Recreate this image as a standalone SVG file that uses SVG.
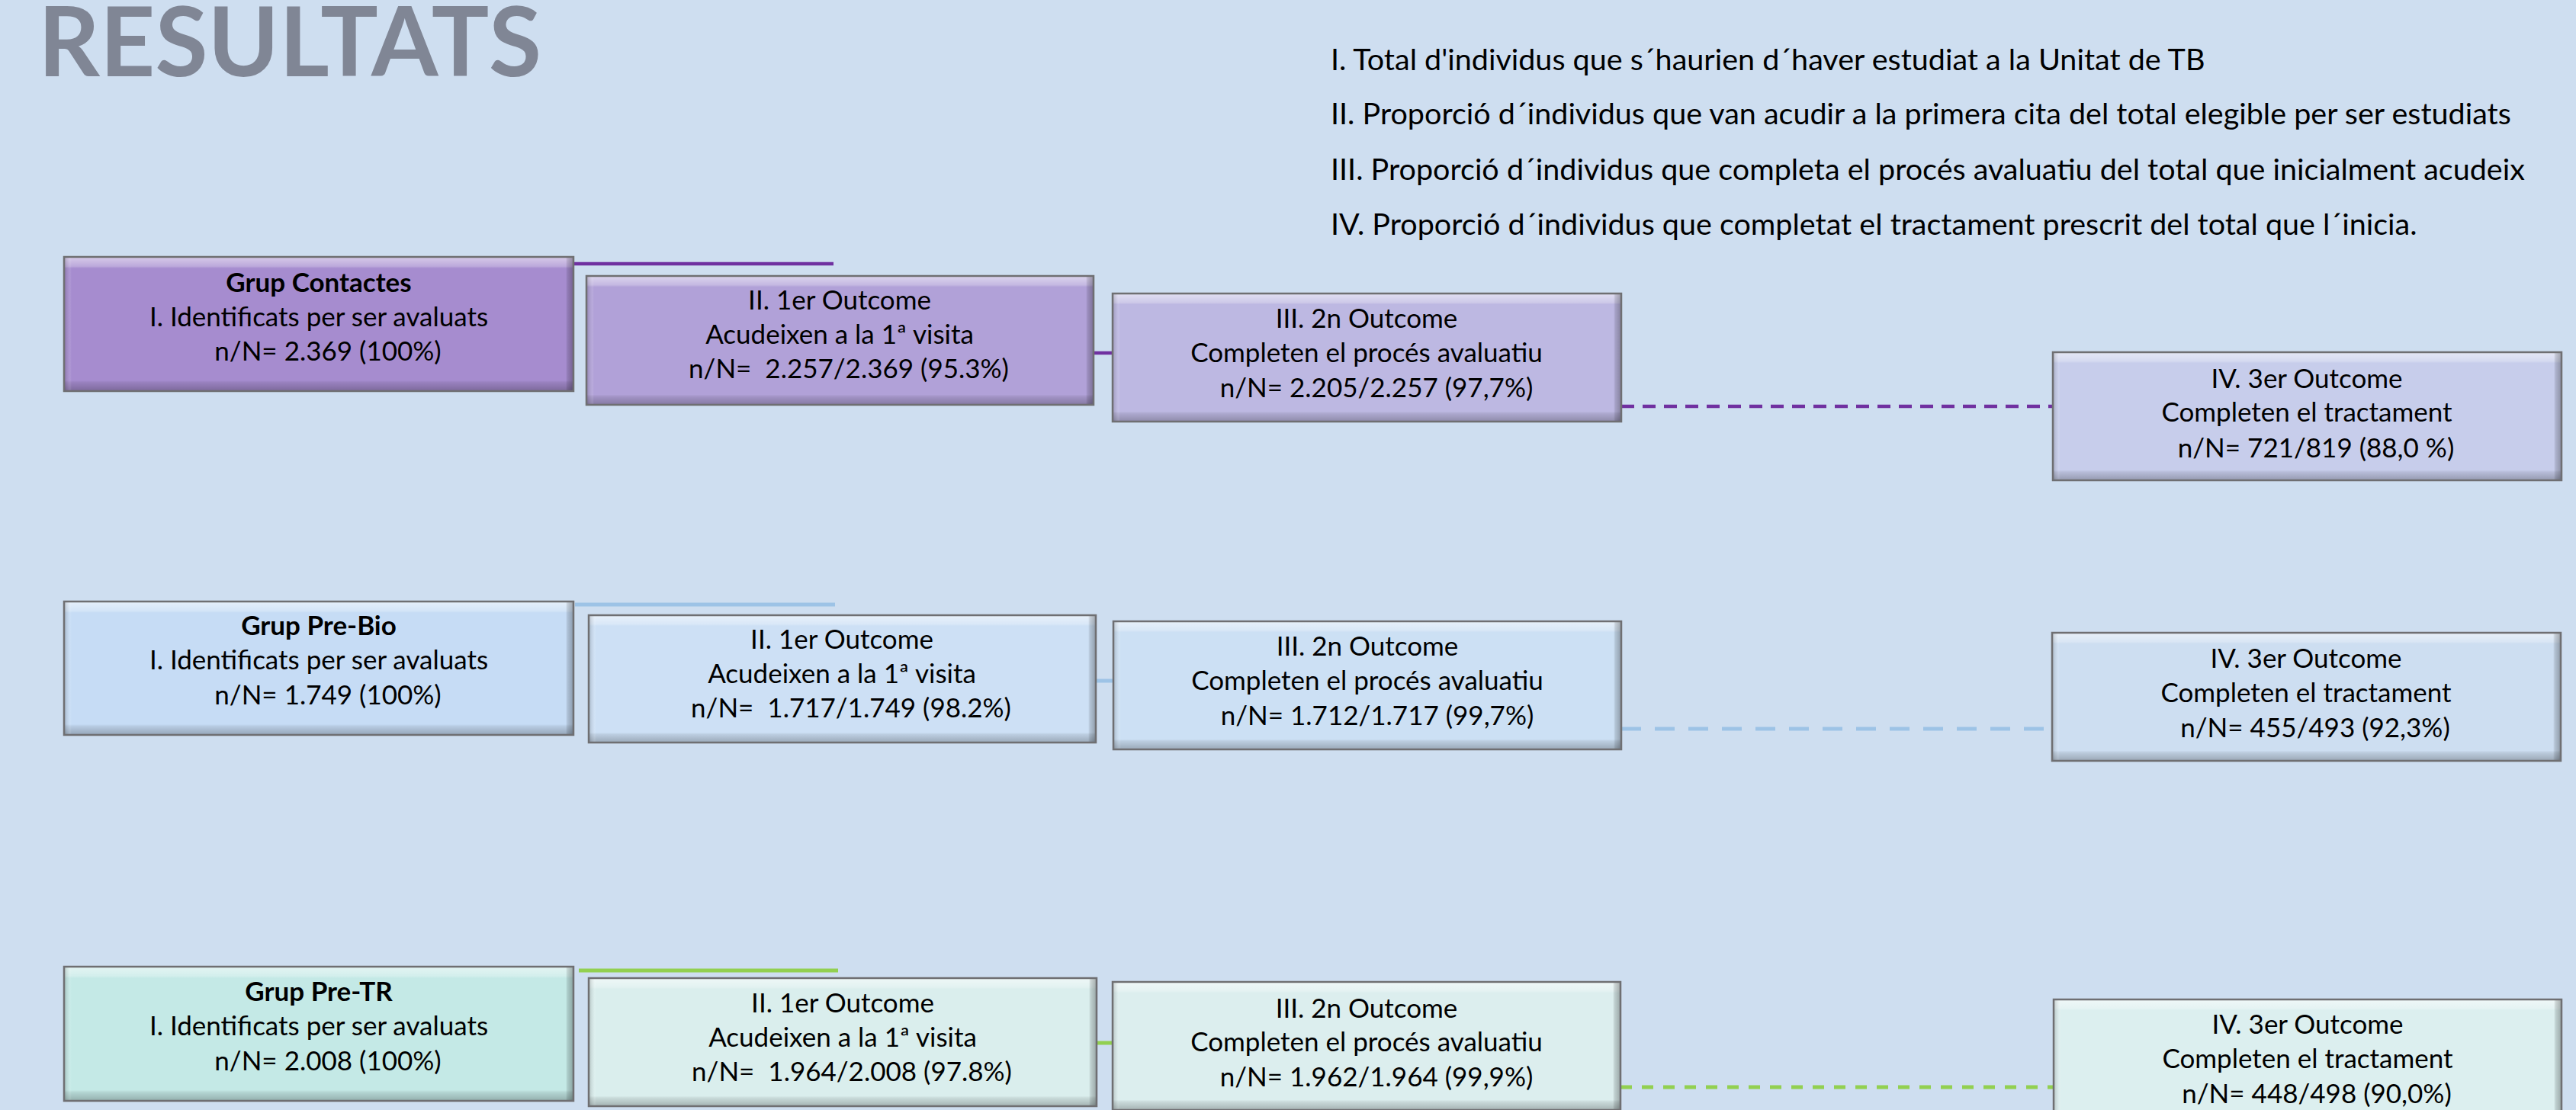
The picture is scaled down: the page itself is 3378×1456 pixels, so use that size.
<svg xmlns="http://www.w3.org/2000/svg" width="3378" height="1456" viewBox="0 0 3378 1456">
<defs>
<linearGradient id="bv" x1="0" y1="0" x2="0" y2="1">
<stop offset="0" stop-color="#ffffff" stop-opacity="0.55"/>
<stop offset="0.07" stop-color="#ffffff" stop-opacity="0.25"/>
<stop offset="0.085" stop-color="#ffffff" stop-opacity="0"/>
<stop offset="0.92" stop-color="#000000" stop-opacity="0"/>
<stop offset="0.935" stop-color="#000000" stop-opacity="0.08"/>
<stop offset="1" stop-color="#000000" stop-opacity="0.25"/>
</linearGradient>
<linearGradient id="bh" x1="0" y1="0" x2="1" y2="0">
<stop offset="0" stop-color="#000000" stop-opacity="0.18"/>
<stop offset="0.012" stop-color="#ffffff" stop-opacity="0.1"/>
<stop offset="0.015" stop-color="#ffffff" stop-opacity="0"/>
<stop offset="0.985" stop-color="#000000" stop-opacity="0"/>
<stop offset="0.988" stop-color="#000000" stop-opacity="0.12"/>
<stop offset="1" stop-color="#000000" stop-opacity="0.3"/>
</linearGradient>
<style>
.bg{fill:#cedef0}
.ov1{fill:url(#bv)}
.ov2{fill:url(#bh)}
.bd{fill:none;stroke:#6f6f72;stroke-width:2.5}
.t{font-family:"Lato","Liberation Sans",sans-serif;font-size:35px;fill:#000;text-anchor:middle}
.b{font-weight:700}
.lg{font-family:"Lato","Liberation Sans",sans-serif;font-size:39.5px;fill:#000}
.ttl{font-family:"Lato","Liberation Sans",sans-serif;font-size:126px;font-weight:700;fill:#808695}
.c1{stroke:#7030a0;stroke-width:4.5;fill:none}
.c2{stroke:#9dc3e6;stroke-width:5;fill:none}
.c3{stroke:#92d050;stroke-width:5;fill:none}
</style>
</defs>
<rect class="bg" x="0" y="0" width="3378" height="1456"/>
<text class="ttl" x="50" y="100">RESULTATS</text>
<g id="legend">
<text class="lg" x="1745" y="92">I. Total d'individus que s´haurien d´haver estudiat a la Unitat de TB</text>
<text class="lg" x="1745" y="163">II. Proporció d´individus que van acudir a la primera cita del total elegible per ser estudiats</text>
<text class="lg" x="1745" y="236">III. Proporció d´individus que completa el procés avaluatiu del total que inicialment acudeix</text>
<text class="lg" x="1745" y="308">IV. Proporció d´individus que completat el tractament prescrit del total que l´inicia.</text>
</g>
<g id="connectors">
<line class="c1" x1="752" y1="346" x2="1093" y2="346"/>
<line class="c1" x1="1433" y1="463" x2="1459" y2="463"/>
<line class="c1" x1="2126" y1="533" x2="2692" y2="533" stroke-dasharray="17 11"/>
<line class="c2" x1="754" y1="793" x2="1095" y2="793"/>
<line class="c2" x1="1437" y1="893" x2="1460" y2="893"/>
<line class="c2" x1="2126" y1="956" x2="2691" y2="956" stroke-dasharray="26 18"/>
<line class="c3" x1="759" y1="1273" x2="1099" y2="1273"/>
<line class="c3" x1="1438" y1="1368" x2="1459" y2="1368"/>
<line class="c3" x1="2125" y1="1426" x2="2693" y2="1426" stroke-dasharray="15 13"/>
</g>
<g id="g1">
<rect x="84" y="337" width="668" height="176" fill="#a68ccf"/><rect class="ov1" x="84" y="337" width="668" height="176"/><rect class="ov2" x="84" y="337" width="668" height="176"/><rect class="bd" x="84" y="337" width="668" height="176"/>
<text class="t b" x="418" y="383">Grup Contactes</text>
<text class="t" x="418" y="428">I. Identificats per ser avaluats</text>
<text class="t" x="430" y="473">n/N= 2.369 (100%)</text>
</g>
<g id="o1a">
<rect x="769" y="362" width="665" height="169" fill="#b1a1d8"/><rect class="ov1" x="769" y="362" width="665" height="169"/><rect class="ov2" x="769" y="362" width="665" height="169"/><rect class="bd" x="769" y="362" width="665" height="169"/>
<text class="t" x="1101" y="406">II. 1er Outcome</text>
<text class="t" x="1101" y="451">Acudeixen a la 1ª visita</text>
<text class="t" x="1113" y="496" xml:space="preserve">n/N=  2.257/2.369 (95.3%)</text>
</g>
<g id="o1b">
<rect x="1459" y="385" width="667" height="168" fill="#bdb8e2"/><rect class="ov1" x="1459" y="385" width="667" height="168"/><rect class="ov2" x="1459" y="385" width="667" height="168"/><rect class="bd" x="1459" y="385" width="667" height="168"/>
<text class="t" x="1792" y="430">III. 2n Outcome</text>
<text class="t" x="1792" y="475">Completen el procés avaluatiu</text>
<text class="t" x="1805" y="521">n/N= 2.205/2.257 (97,7%)</text>
</g>
<g id="o1c">
<rect x="2692" y="462" width="667" height="168" fill="#c7cdeb"/><rect class="ov1" x="2692" y="462" width="667" height="168"/><rect class="ov2" x="2692" y="462" width="667" height="168"/><rect class="bd" x="2692" y="462" width="667" height="168"/>
<text class="t" x="3025" y="509">IV. 3er Outcome</text>
<text class="t" x="3025" y="553">Completen el tractament</text>
<text class="t" x="3037" y="600">n/N= 721/819 (88,0 %)</text>
</g>
<g id="g2">
<rect x="84" y="789" width="668" height="175" fill="#c6dcf5"/><rect class="ov1" x="84" y="789" width="668" height="175"/><rect class="ov2" x="84" y="789" width="668" height="175"/><rect class="bd" x="84" y="789" width="668" height="175"/>
<text class="t b" x="418" y="833">Grup Pre-Bio</text>
<text class="t" x="418" y="878">I. Identificats per ser avaluats</text>
<text class="t" x="430" y="924">n/N= 1.749 (100%)</text>
</g>
<g id="o2a">
<rect x="772" y="807" width="665" height="167" fill="#cde0f5"/><rect class="ov1" x="772" y="807" width="665" height="167"/><rect class="ov2" x="772" y="807" width="665" height="167"/><rect class="bd" x="772" y="807" width="665" height="167"/>
<text class="t" x="1104" y="851">II. 1er Outcome</text>
<text class="t" x="1104" y="896">Acudeixen a la 1ª visita</text>
<text class="t" x="1116" y="941" xml:space="preserve">n/N=  1.717/1.749 (98.2%)</text>
</g>
<g id="o2b">
<rect x="1460" y="815" width="666" height="168" fill="#cce0f4"/><rect class="ov1" x="1460" y="815" width="666" height="168"/><rect class="ov2" x="1460" y="815" width="666" height="168"/><rect class="bd" x="1460" y="815" width="666" height="168"/>
<text class="t" x="1793" y="860">III. 2n Outcome</text>
<text class="t" x="1793" y="905">Completen el procés avaluatiu</text>
<text class="t" x="1806" y="951">n/N= 1.712/1.717 (99,7%)</text>
</g>
<g id="o2c">
<rect x="2691" y="830" width="667" height="168" fill="#cddef1"/><rect class="ov1" x="2691" y="830" width="667" height="168"/><rect class="ov2" x="2691" y="830" width="667" height="168"/><rect class="bd" x="2691" y="830" width="667" height="168"/>
<text class="t" x="3024" y="876">IV. 3er Outcome</text>
<text class="t" x="3024" y="921">Completen el tractament</text>
<text class="t" x="3036" y="967">n/N= 455/493 (92,3%)</text>
</g>
<g id="g3">
<rect x="84" y="1268" width="668" height="176" fill="#c4e9e6"/><rect class="ov1" x="84" y="1268" width="668" height="176"/><rect class="ov2" x="84" y="1268" width="668" height="176"/><rect class="bd" x="84" y="1268" width="668" height="176"/>
<text class="t b" x="418" y="1313">Grup Pre-TR</text>
<text class="t" x="418" y="1358">I. Identificats per ser avaluats</text>
<text class="t" x="430" y="1404">n/N= 2.008 (100%)</text>
</g>
<g id="o3a">
<rect x="772" y="1283" width="666" height="168" fill="#daeeed"/><rect class="ov1" x="772" y="1283" width="666" height="168"/><rect class="ov2" x="772" y="1283" width="666" height="168"/><rect class="bd" x="772" y="1283" width="666" height="168"/>
<text class="t" x="1105" y="1328">II. 1er Outcome</text>
<text class="t" x="1105" y="1373">Acudeixen a la 1ª visita</text>
<text class="t" x="1117" y="1418" xml:space="preserve">n/N=  1.964/2.008 (97.8%)</text>
</g>
<g id="o3b">
<rect x="1459" y="1288" width="666" height="168" fill="#dceeee"/><rect class="ov1" x="1459" y="1288" width="666" height="168"/><rect class="ov2" x="1459" y="1288" width="666" height="168"/><rect class="bd" x="1459" y="1288" width="666" height="168"/>
<text class="t" x="1792" y="1335">III. 2n Outcome</text>
<text class="t" x="1792" y="1379">Completen el procés avaluatiu</text>
<text class="t" x="1805" y="1425">n/N= 1.962/1.964 (99,9%)</text>
</g>
<g id="o3c">
<rect x="2693" y="1311" width="666" height="168" fill="#dcefef"/><rect class="ov1" x="2693" y="1311" width="666" height="168"/><rect class="ov2" x="2693" y="1311" width="666" height="168"/><rect class="bd" x="2693" y="1311" width="666" height="168"/>
<text class="t" x="3026" y="1356">IV. 3er Outcome</text>
<text class="t" x="3026" y="1401">Completen el tractament</text>
<text class="t" x="3038" y="1447">n/N= 448/498 (90,0%)</text>
</g>
</svg>
